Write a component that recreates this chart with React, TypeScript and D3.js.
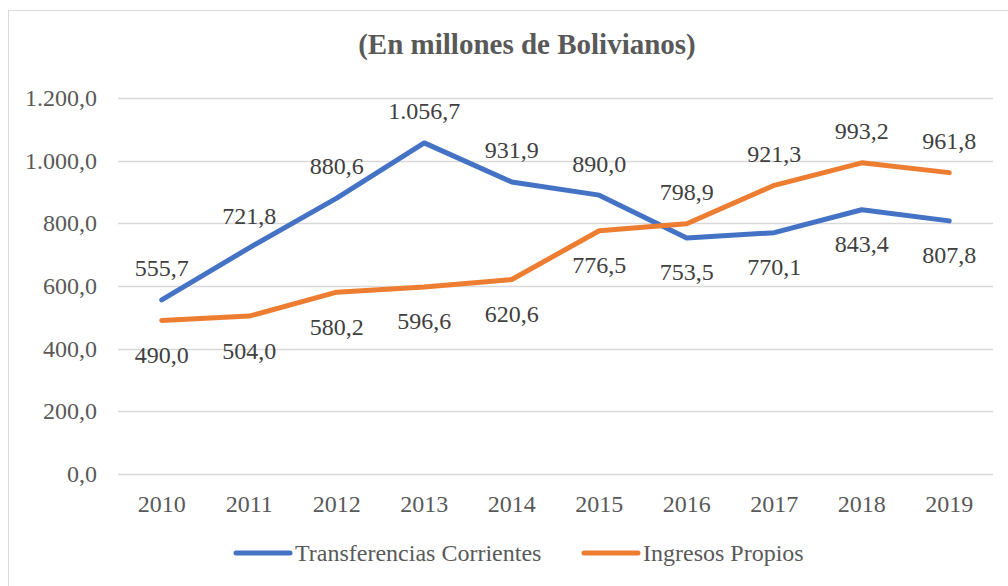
import React from "react";
import * as d3 from "d3";

const years = ["2010", "2011", "2012", "2013", "2014", "2015", "2016", "2017", "2018", "2019"];
const transferencias = [555.7, 721.8, 880.6, 1056.7, 931.9, 890.0, 753.5, 770.1, 843.4, 807.8];
const ingresos = [490.0, 504.0, 580.2, 596.6, 620.6, 776.5, 798.9, 921.3, 993.2, 961.8];
// label placement: 1 = above, -1 = below
const transfPos = [1, 1, 1, 1, 1, 1, -1, -1, -1, -1];
const ingresosPos = [-1, -1, -1, -1, -1, -1, 1, 1, 1, 1];
const yTicks = [0, 200, 400, 600, 800, 1000, 1200];
const title = "(En millones de Bolivianos)";
const seriesNames = ["Transferencias Corrientes", "Ingresos Propios"];

const W = 1008;
const H = 586;
const FONT = '"Liberation Serif", "Times New Roman", Times, serif';

const fmt = (v: number) => {
  const s = v.toFixed(1);
  const [i, d] = s.split(".");
  const ii = i.replace(/\B(?=(\d{3})+(?!\d))/g, ".");
  return ii + "," + d;
};

export default function App() {
  const x = d3.scaleBand<string>().domain(years).range([118, 993]);
  const y = d3.scaleLinear().domain([0, 1200]).range([474, 98]);
  const cx = (d: string) => (x(d) as number) + x.bandwidth() / 2;
  const line = d3
    .line<number>()
    .x((_, i) => cx(years[i]))
    .y((v) => y(v));

  const series = [
    { name: seriesNames[0], values: transferencias, pos: transfPos, color: "#4472C4" },
    { name: seriesNames[1], values: ingresos, pos: ingresosPos, color: "#ED7D31" },
  ];
  const tStyle = { fontFamily: FONT } as React.CSSProperties;
  const legendX = [236, 584];

  return (
    <div style={{ position: "absolute", left: 0, top: 0 }}>
      <svg width={W} height={H} style={{ display: "block", background: "#fff", fontFamily: FONT }}>
        <rect x={8.5} y={10.5} width={1010} height={600} fill="#fff" stroke="#d9d9d9" strokeWidth={1} />
        <text x={527} y={54} textAnchor="middle" style={tStyle} fontWeight="bold" fontSize={29} fill="#595959">
          {title}
        </text>
        {yTicks.map((t) => (
          <g key={t}>
            <line x1={118} x2={993} y1={Math.round(y(t)) + 0.5} y2={Math.round(y(t)) + 0.5} stroke="#d9d9d9" strokeWidth={1.3} />
            <text x={97} y={y(t)} dy="0.33em" textAnchor="end" style={tStyle} fontSize={24} fill="#595959">
              {fmt(t)}
            </text>
          </g>
        ))}
        {years.map((yr) => (
          <text key={yr} x={cx(yr)} y={512} textAnchor="middle" style={tStyle} fontSize={24} fill="#595959">
            {yr}
          </text>
        ))}
        {series.map((s) => (
          <path
            key={s.name}
            d={line(s.values) || ""}
            fill="none"
            stroke={s.color}
            strokeWidth={5}
            strokeLinejoin="round"
            strokeLinecap="round"
          />
        ))}
        {series.map((s) =>
          s.values.map((v, i) => (
            <text
              key={s.name + i}
              x={cx(years[i])}
              y={y(v) - (s.pos[i] > 0 ? 31.5 : -34.5)}
              dy="0.33em"
              textAnchor="middle"
              style={tStyle}
              fontSize={24}
              fill="#404040"
            >
              {fmt(v)}
            </text>
          ))
        )}
        {series.map((s, i) => {
          const lx = legendX[i];
          return (
            <g key={"leg" + i}>
              <line x1={lx} x2={lx + 54} y1={553} y2={553} stroke={s.color} strokeWidth={5} strokeLinecap="round" />
              <text x={lx + 59} y={553} dy="0.33em" style={tStyle} fontSize={24} fill="#595959">
                {s.name}
              </text>
            </g>
          );
        })}
      </svg>
    </div>
  );
}
